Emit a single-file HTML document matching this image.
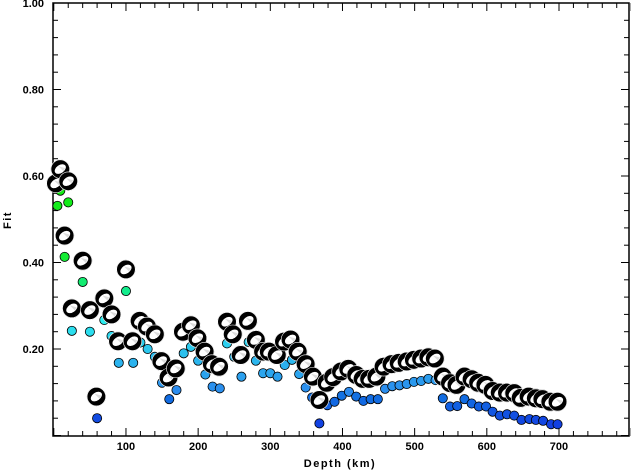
<!DOCTYPE html>
<html><head><meta charset="utf-8"><style>
body{margin:0;background:#fff;}
svg{display:block;font-family:"Liberation Sans",sans-serif;}
.tl{font-size:11px;font-weight:bold;fill:#000;}
</style></head><body>
<svg id="chart" width="631" height="471" viewBox="0 0 631 471" xmlns="http://www.w3.org/2000/svg">
<g id="axes"></g>
<g id="dots"></g>
<g id="balls"></g>
<text x="340" y="467" text-anchor="middle" class="tl" style="letter-spacing:1.5px">Depth (km)</text>
<text x="11" y="220" text-anchor="middle" class="tl" transform="rotate(-90 11 220)" style="letter-spacing:1.5px">Fit</text>
</svg>
<script>
const ballDepths=[3,9,20,15,25,40,50,59,70,80,89,100,109,119,129,140,149,159,169,179,190,199,209,219,229,240,248,259,269,280,290,298,309,319,328,338,349,359,368,378,387,398,408,419,428,437,447,457,468,478,489,499,509,519,528,539,549,558,569,579,588,598,608,618,628,638,647,658,668,677,688,698];
const ballFits=[0.583,0.616,0.588,0.462,0.294,0.404,0.290,0.090,0.317,0.280,0.218,0.384,0.218,0.265,0.252,0.234,0.172,0.134,0.155,0.240,0.255,0.225,0.194,0.165,0.159,0.263,0.234,0.186,0.265,0.221,0.194,0.194,0.186,0.217,0.222,0.194,0.165,0.136,0.082,0.122,0.135,0.148,0.154,0.140,0.131,0.131,0.136,0.159,0.165,0.168,0.171,0.175,0.178,0.181,0.178,0.136,0.121,0.117,0.136,0.130,0.122,0.117,0.103,0.099,0.099,0.098,0.087,0.090,0.086,0.084,0.078,0.078];
const dotDepths=[5,9,20,15,25,40,50,60,70,80,90,100,110,120,130,140,150,160,170,180,190,200,210,220,230,240,250,260,270,280,290,300,310,320,330,340,349,358,368,379,389,399,409,419,429,439,449,459,469,479,489,499,509,519,529,539,549,559,569,579,589,599,608,618,628,638,648,659,668,678,689,698];
const dotFits=[0.531,0.566,0.539,0.413,0.242,0.355,0.240,0.040,0.267,0.230,0.168,0.334,0.168,0.215,0.200,0.182,0.122,0.084,0.105,0.190,0.205,0.173,0.141,0.113,0.109,0.213,0.182,0.136,0.216,0.173,0.144,0.144,0.136,0.163,0.175,0.142,0.111,0.088,0.028,0.070,0.078,0.092,0.101,0.090,0.080,0.084,0.084,0.108,0.114,0.116,0.119,0.124,0.126,0.131,0.128,0.086,0.067,0.068,0.084,0.074,0.067,0.067,0.055,0.046,0.049,0.046,0.036,0.038,0.036,0.034,0.026,0.026];
const xTicks=[100,200,300,400,500,600,700];
const yTicks=[0.20,0.40,0.60,0.80,1.00];

const NS="http://www.w3.org/2000/svg";
const X0=53.8,XS=0.7217,Y0=435.5,YS=432.5;
const xs=d=>X0+d*XS, ys=f=>Y0-f*YS;
function mk(tag,attrs,parent){const e=document.createElementNS(NS,tag);for(const k in attrs)e.setAttribute(k,attrs[k]);parent.appendChild(e);return e;}
const axes=document.getElementById('axes');
const frame=mk('rect',{x:53,y:3,width:576,height:433,fill:'none',stroke:'#000','stroke-width':1.5},axes);


for(let d=0;d<=800;d+=20){const big=d%100===0;const L=big?8:5;
 const t=mk('line',{x1:xs(d),x2:xs(d),y1:436,y2:436-L,stroke:'#000','stroke-width':1},axes);
 
 
 mk('line',{x1:xs(d),x2:xs(d),y1:3,y2:3+L,stroke:'#000','stroke-width':1},axes);}
for(let i=0;i<=25;i++){const f=i*0.04;const big=i%5===0;const L=big?8:5;
 const t=mk('line',{x1:53,x2:53+L,y1:ys(f),y2:ys(f),stroke:'#000','stroke-width':1},axes);
 
 
 mk('line',{x1:629,x2:629-L,y1:ys(f),y2:ys(f),stroke:'#000','stroke-width':1},axes);}
xTicks.forEach(d=>{const t=mk('text',{x:xs(d),y:450,'text-anchor':'middle',class:'tl'},axes);t.textContent=d;
 
 });
yTicks.forEach(f=>{const t=mk('text',{x:44,y:ys(f)+4,'text-anchor':'end',class:'tl'},axes);t.textContent=f.toFixed(2);
 
 });
function hueFor(f){const st=[[0.02,228],[0.08,215],[0.13,205],[0.2,192],[0.27,180],[0.33,155],[0.4,130],[0.6,118]];
 if(f<=st[0][0])return st[0][1];for(let i=1;i<st.length;i++){if(f<=st[i][0]){const a=st[i-1],b=st[i];return a[1]+(b[1]-a[1])*(f-a[0])/(b[0]-a[0]);}}return 118;}
const dg=document.getElementById('dots');
dotDepths.forEach((d,i)=>{const f=dotFits[i];const h=hueFor(f);const l=f<0.1?48:(f<0.3?55:50);
 const c=mk('circle',{cx:xs(d),cy:ys(f),r:4.6,fill:`hsl(${h},85%,${l}%)`,stroke:'#000','stroke-width':0.8},dg);
 
 });
const bg=document.getElementById('balls');
ballDepths.forEach((d,i)=>{const cx=xs(d),cy=ys(ballFits[i]);
 const g=mk('g',{transform:`translate(${cx},${cy})`},bg);
 
 
 mk('circle',{r:9,fill:'#000',stroke:'#000','stroke-width':1},g);
 mk('ellipse',{rx:6.2,ry:4,fill:'#fff',transform:'rotate(-35)'},g);
 mk('path',{d:'M-2,-3 L3,2 L5,-1 Z',fill:'#ddd'},g);
 mk('circle',{r:9.3,fill:'none',stroke:'#fff','stroke-width':0.6},g);});
</script>
</body></html>
